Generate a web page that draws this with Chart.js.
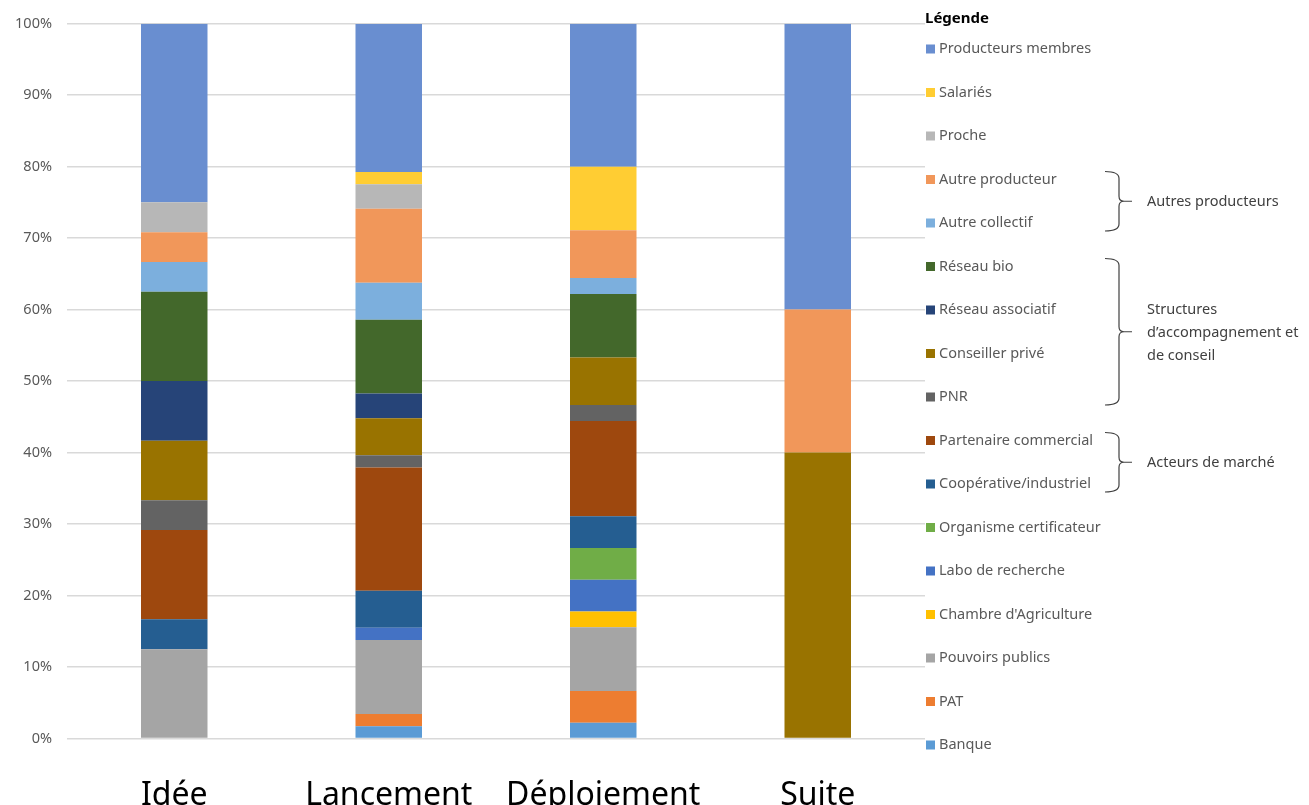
<!DOCTYPE html>
<html lang="fr">
<head>
<meta charset="utf-8">
<title>Acteurs mobilisés par étape</title>
<script src="https://cdn.jsdelivr.net/npm/chart.js@4.4.1/dist/chart.umd.min.js"></script>
<style>
    html, body { margin: 0; padding: 0; background: #fff; }
    #wrap { width: 1309px; height: 805px; position: relative; }
</style>
</head>
<body>
<div id="wrap"><canvas id="stackChart"></canvas></div>
<script>
// categories (x axis)
const etapes = ['Idée', 'Lancement', 'Déploiement', 'Suite'];

// y ticks
const yTicks = [0, 10, 20, 30, 40, 50, 60, 70, 80, 90, 100];

// series, from bottom of the stack to the top (values in %)
const banque        = [0, 1.72, 2.22, 0];
const pat           = [0, 1.72, 4.44, 0];
const pouvoirs      = [12.5, 10.34, 8.89, 0];
const chambre       = [0, 0, 2.22, 0];
const labo          = [0, 1.72, 4.44, 0];
const certif        = [0, 0, 4.44, 0];
const cooperative   = [4.17, 5.17, 4.44, 0];
const partenaire    = [12.5, 17.24, 13.33, 0];
const pnr           = [4.17, 1.72, 2.22, 0];
const conseiller    = [8.33, 5.17, 6.67, 40];
const reseauAsso    = [8.33, 3.45, 0, 0];
const reseauBio     = [12.5, 10.34, 8.89, 0];
const autreCollectif = [4.17, 5.17, 2.22, 0];
const autreProd     = [4.17, 10.34, 6.67, 20];
const proche        = [4.17, 3.45, 0, 0];
const salaries      = [0, 1.72, 8.89, 0];
const producteurs   = [25, 20.69, 20, 40];

const series = [
    { label: 'Banque', data: banque, color: '#5B9BD5' },
    { label: 'PAT', data: pat, color: '#ED7D31' },
    { label: 'Pouvoirs publics', data: pouvoirs, color: '#A5A5A5' },
    { label: "Chambre d'Agriculture", data: chambre, color: '#FFC000' },
    { label: 'Labo de recherche', data: labo, color: '#4472C4' },
    { label: 'Organisme certificateur', data: certif, color: '#70AD47' },
    { label: 'Coopérative/industriel', data: cooperative, color: '#255E91' },
    { label: 'Partenaire commercial', data: partenaire, color: '#9E480E' },
    { label: 'PNR', data: pnr, color: '#636363' },
    { label: 'Conseiller privé', data: conseiller, color: '#997300' },
    { label: 'Réseau associatif', data: reseauAsso, color: '#264478' },
    { label: 'Réseau bio', data: reseauBio, color: '#43682B' },
    { label: 'Autre collectif', data: autreCollectif, color: '#7CAFDD' },
    { label: 'Autre producteur', data: autreProd, color: '#F1975A' },
    { label: 'Proche', data: proche, color: '#B7B7B7' },
    { label: 'Salariés', data: salaries, color: '#FFCD33' },
    { label: 'Producteurs membres', data: producteurs, color: '#698ED0' }
];

// groups drawn with a brace next to the legend
const groupes = [
    { from: 'Autre producteur', to: 'Autre collectif', lines: ['Autres producteurs'] },
    { from: 'Réseau bio', to: 'PNR', lines: ['Structures', 'd\u2019accompagnement et', 'de conseil'] },
    { from: 'Partenaire commercial', to: 'Coopérative/industriel', lines: ['Acteurs de marché'] }
];

const FONT = "'Noto Sans', 'DejaVu Sans', sans-serif";

// legend on the right, with braces, drawn by hand
const sideLegend = {
    id: 'sideLegend',
    afterDraw(chart) {
        const ctx = chart.ctx;
        const items = chart.data.datasets.slice().reverse();
        const x0 = 926;
        const y0 = 49;
        const step = 43.5;
        const rowY = {};

        ctx.save();
        ctx.textBaseline = 'middle';
        ctx.fillStyle = '#000';
        ctx.font = 'bold 15px ' + FONT;
        ctx.fillText('Légende', x0 - 1, 19);

        ctx.font = '14.5px ' + FONT;
        items.forEach((ds, i) => {
            const y = y0 + i * step;
            rowY[ds.label] = y;
            ctx.fillStyle = ds.backgroundColor;
            ctx.fillRect(x0, y - 4.5, 9, 9);
            ctx.fillStyle = '#595959';
            ctx.fillText(ds.label, x0 + 13, y);
        });

        ctx.strokeStyle = '#404040';
        ctx.lineWidth = 1.2;
        groupes.forEach(g => {
            const top = rowY[g.from] - 8;
            const bot = rowY[g.to] + 8;
            const mid = (top + bot) / 2;
            const bx = 1119;
            ctx.beginPath();
            ctx.moveTo(bx - 14, top);
            ctx.quadraticCurveTo(bx, top, bx, top + 7);
            ctx.lineTo(bx, mid - 5);
            ctx.quadraticCurveTo(bx, mid, bx + 5, mid);
            ctx.lineTo(bx + 13, mid);
            ctx.moveTo(bx + 5, mid);
            ctx.quadraticCurveTo(bx, mid, bx, mid + 5);
            ctx.lineTo(bx, bot - 7);
            ctx.quadraticCurveTo(bx, bot, bx - 14, bot);
            ctx.stroke();

            ctx.fillStyle = '#404040';
            ctx.font = '14.5px ' + FONT;
            const lh = 23;
            const start = mid + 1 - (g.lines.length - 1) * lh / 2;
            g.lines.forEach((t, k) => {
                ctx.fillText(t, 1147, start + k * lh);
            });
        });
        ctx.restore();
    }
};

new Chart(document.getElementById('stackChart'), {
    type: 'bar',
    data: {
        labels: etapes,
        datasets: series.map(s => ({
            label: s.label,
            data: s.data,
            backgroundColor: s.color,
            borderWidth: 0,
            categoryPercentage: 1,
            barPercentage: 0.31
        }))
    },
    options: {
        responsive: true,
        maintainAspectRatio: false,
        animation: false,
        layout: {
            padding: { top: 21, right: 384, bottom: 0, left: 0 }
        },
        plugins: {
            legend: { display: false },
            tooltip: { enabled: false }
        },
        scales: {
            x: {
                stacked: true,
                grid: { display: false },
                border: { display: false },
                ticks: {
                    color: '#000',
                    font: { family: FONT, size: 32 },
                    padding: 30,
                    maxRotation: 0
                },
                afterFit(scale) { scale.height = 66.5; }
            },
            y: {
                stacked: true,
                min: 0,
                max: 100,
                afterBuildTicks(scale) {
                    scale.ticks = yTicks.map(v => ({ value: v }));
                },
                grid: {
                    color: '#d9d9d9',
                    lineWidth: 1.5,
                    drawTicks: false
                },
                border: { display: false },
                ticks: {
                    color: '#595959',
                    font: { family: FONT, size: 14.5 },
                    padding: 15,
                    callback: v => v + '%'
                },
                afterFit(scale) { scale.width = 67; }
            }
        }
    },
    plugins: [sideLegend]
});
</script>
</body>
</html>
